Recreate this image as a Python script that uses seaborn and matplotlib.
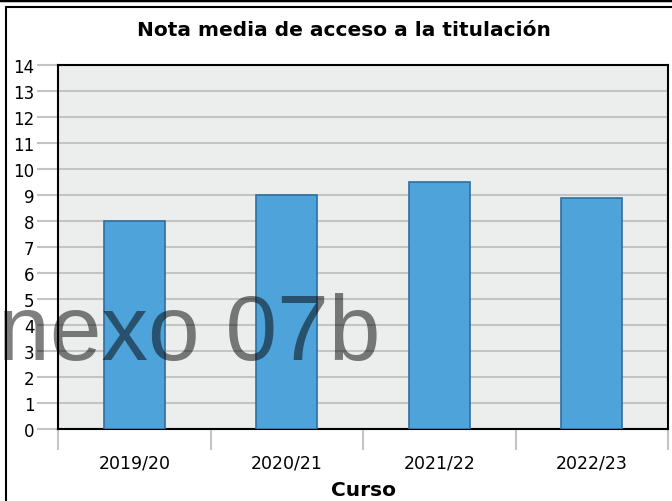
import matplotlib
matplotlib.use("Agg")
import matplotlib.pyplot as plt
import seaborn as sns
import pandas as pd
from matplotlib.lines import Line2D

# Datos del grafico
cursos = ["2019/20", "2020/21", "2021/22", "2022/23"]
notas = [8.0, 9.0, 9.5, 8.9]
y_ticks = list(range(0, 15))

df = pd.DataFrame({"Curso": cursos, "Nota": notas})

sns.set_theme(style="white")
plt.rcParams['font.family'] = ['DejaVu Sans']
plt.rcParams['text.color'] = 'black'
plt.rcParams['xtick.labelcolor'] = 'black'
plt.rcParams['ytick.labelcolor'] = 'black'
plt.rcParams['axes.labelcolor'] = 'black'

fig = plt.figure(figsize=(6.72, 5.02), dpi=100)
ax = fig.add_axes([58 / 672, 1 - 430 / 502, 610 / 672, 364 / 502])
ax.set_facecolor("#eceded")

sns.barplot(data=df, x="Curso", y="Nota", color="#4fa3db", width=0.4,
            edgecolor="#2f6f9f", linewidth=1.2, saturation=1, ax=ax, zorder=3)

ax.set_ylim(0, 14)
ax.set_xlim(-0.5, len(cursos) - 0.5)
ax.set_yticks(y_ticks)
ax.yaxis.grid(True, color="#c4c4c4", linewidth=1.5, zorder=0)
ax.set_axisbelow(True)
ax.tick_params(axis="y", length=15, width=1.5, color="#c4c4c4", labelsize=12, pad=2, left=True)

# ticks del eje x entre categorias
ax.set_xticks([i - 0.5 for i in range(len(cursos) + 1)], minor=True)
ax.tick_params(axis="x", which="minor", length=15, width=1.5, color="#c4c4c4", bottom=True)
ax.tick_params(axis="x", which="major", length=0, labelsize=12.5, pad=18)

for s in ax.spines.values():
    s.set_color("black")
    s.set_linewidth(1.5)

ax.set_ylabel("")
ax.set_xlabel("Curso", fontsize=14.5, fontweight="bold", labelpad=6)

fig.text(344 / 672, 1 - 31 / 502, "Nota media de acceso a la titulación",
         ha="center", va="center", fontsize=14.5, fontweight="bold")

# marca de agua
fig.text(380 / 672, 1 - 336 / 502, "Anexo 07b", ha="right", va="center",
         fontsize=67, color="black", alpha=0.5, family="Liberation Sans", zorder=10)

# marco de la ventana
fig.add_artist(Line2D([0, 1], [1 - 1 / 502, 1 - 1 / 502], color="black", linewidth=2.5))
fig.add_artist(Line2D([5.5 / 672, 1], [1 - 8 / 502, 1 - 8 / 502], color="black", linewidth=1.5))
fig.add_artist(Line2D([5.5 / 672, 5.5 / 672], [0, 1 - 8 / 502], color="black", linewidth=1.5))

fig.savefig("out.png", dpi=100)
